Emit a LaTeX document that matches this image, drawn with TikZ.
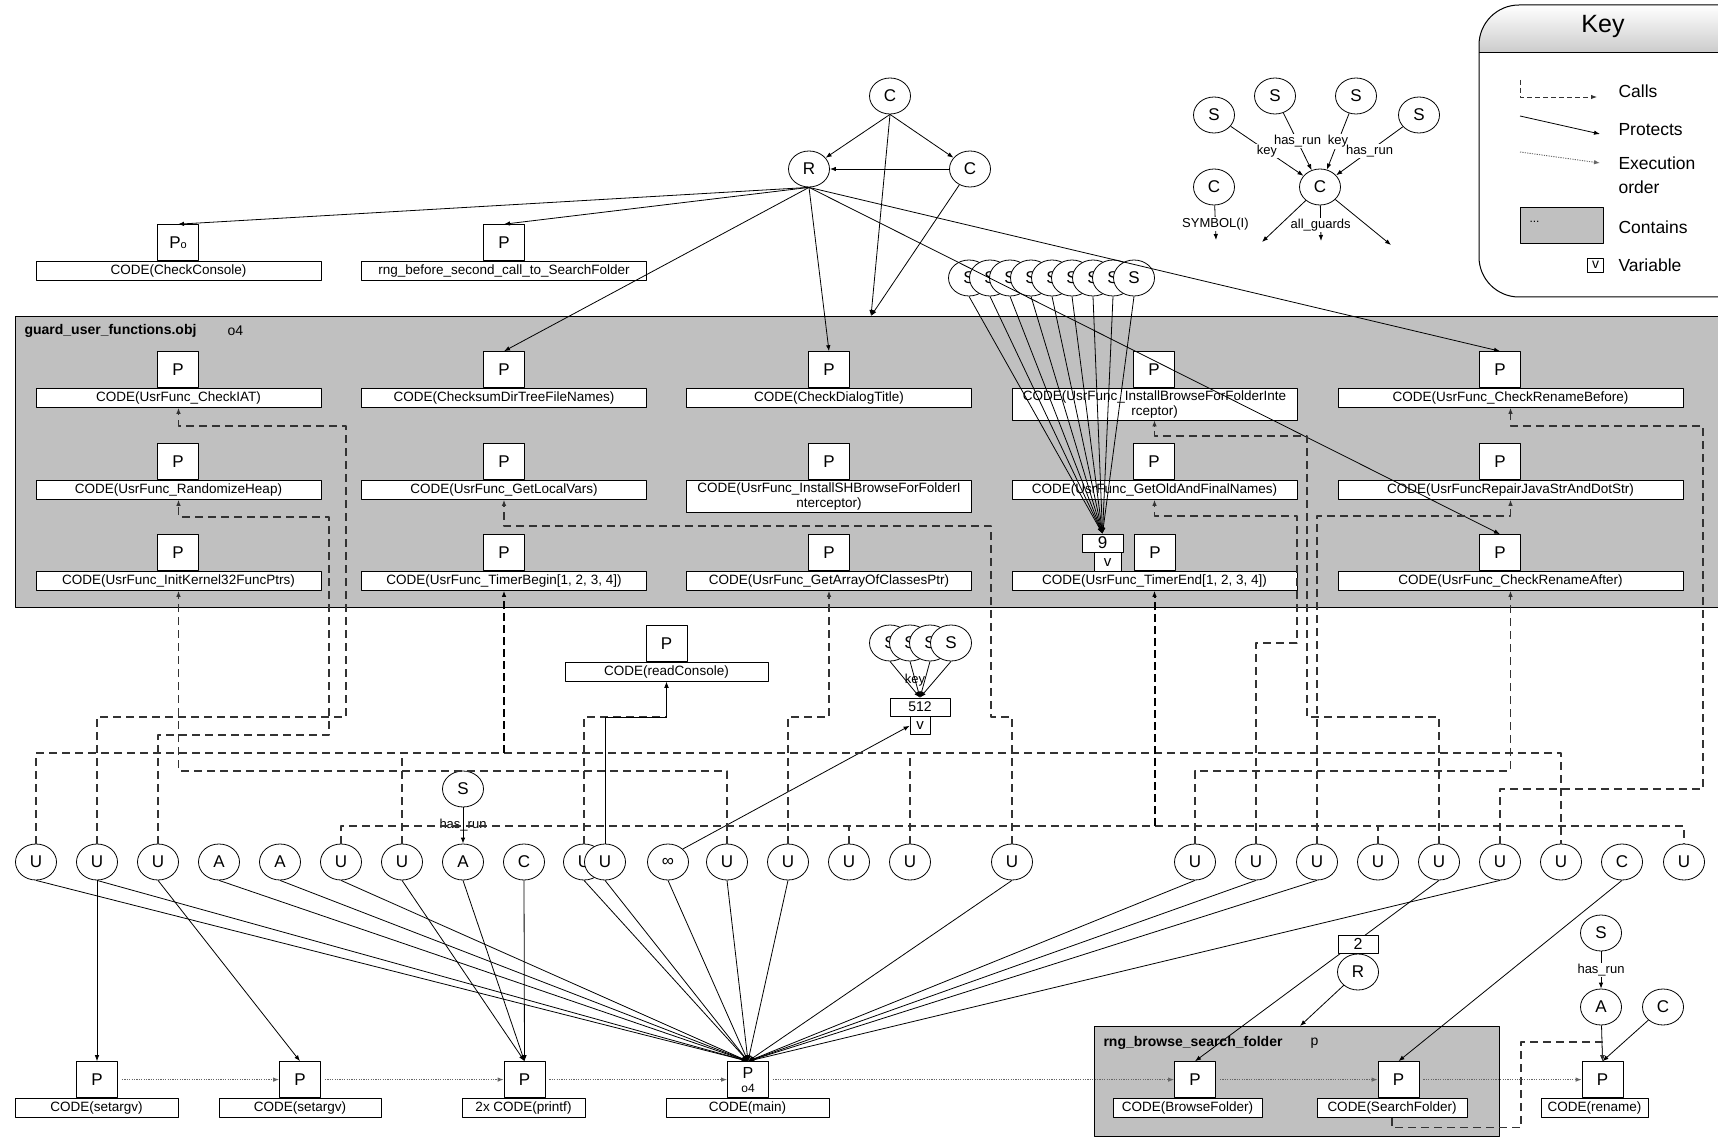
\documentclass[tikz,border=0pt]{standalone}
\usepackage{fontspec}
\setmainfont{Liberation Sans}
\usetikzlibrary{arrows.meta,shapes.geometric,positioning}
\definecolor{boxgray}{RGB}{192,192,192}

\begin{document}
\begin{tikzpicture}[x=1pt, y=-1pt, line join=round,
    arrowtip/.style={-{Latex[length=6pt,width=4.5pt]}},
    protects/.style={arrowtip, line width=0.8pt},
    calls/.style={arrowtip, line width=1.1pt, black!80, dash pattern=on 8pt off 5pt},
    bus/.style={line width=1.1pt, black!80, dash pattern=on 8pt off 5pt},
    riser/.style={arrowtip, line width=2pt, black, dash pattern=on 8pt off 4pt},
    execorder/.style={arrowtip, line width=0.9pt, black!60, dash pattern=on 1.2pt off 1.2pt, shorten <=4pt},
    guard/.style={ellipse, draw, fill=white, line width=0.8pt, minimum width=41pt, minimum height=36pt, inner sep=0pt, font=\fontsize{17}{17}\selectfont},
    pbox/.style={draw, fill=white, line width=0.8pt, minimum width=41pt, minimum height=36pt, inner sep=0pt, anchor=south, font=\fontsize{17}{17}\selectfont},
    codebox/.style={draw, fill=white, line width=0.8pt, minimum height=19pt, inner sep=2pt, anchor=north, align=center, font=\fontsize{13.5}{15}\selectfont},
    varbox/.style={draw, fill=white, line width=0.8pt, inner sep=0pt, minimum height=18pt, font=\fontsize{15}{15}\selectfont},
    lbl/.style={fill=white, inner sep=1pt, font=\fontsize{13}{13}\selectfont},
    container/.style={draw, fill=boxgray, line width=0.8pt},
    keytext/.style={anchor=west, align=left, font=\fontsize{17.5}{24}\selectfont}]

\useasboundingbox (0,0) rectangle (1718,1139);

% Contenitori grigi
\draw[container] (15,316) rectangle (1730,607);
\node[anchor=west, font=\fontsize{14}{14}\selectfont\bfseries] (guardname) at (21,331) {guard\_user\_functions.obj};
\node[anchor=west, font=\fontsize{14}{14}\selectfont] (guardobj) at (224,331) {o4};
\draw[container] (1094,1026) rectangle (1499,1136);
\node[anchor=west, font=\fontsize{14}{14}\selectfont\bfseries] (rngname) at (1100,1043) {rng\_browse\_search\_folder};
\node[anchor=west, font=\fontsize{14}{14}\selectfont] (rngobj) at (1307,1043) {p};

% Funzioni: riquadro CODE(...) con la P sopra
\foreach \fn/\cx/\px/\ty/\bw/\txt in {
    rngbef/504/504/261/285/{rng\_before\_second\_call\_to\_SearchFolder},
    iat/178.5/178/388/285/{CODE(UsrFunc\_CheckIAT)},
    chksum/504/504/388/285/{CODE(ChecksumDirTreeFileNames)},
    dialog/829/829/388/285/{CODE(CheckDialogTitle)},
    instb/1154.5/1154/388/285/{CODE(UsrFunc\_InstallBrowseForFolderInte\\rceptor)},
    renb/1510.5/1500/388/345/{CODE(UsrFunc\_CheckRenameBefore)},
    rheap/178.5/178/480/285/{CODE(UsrFunc\_RandomizeHeap)},
    getloc/504/504/480/285/{CODE(UsrFunc\_GetLocalVars)},
    instsh/829/829/480/285/{CODE(UsrFunc\_InstallSHBrowseForFolderI\\nterceptor)},
    getold/1154.5/1154/480/285/{CODE(UsrFunc\_GetOldAndFinalNames)},
    repair/1510.5/1500/480/345/{CODE(UsrFuncRepairJavaStrAndDotStr)},
    initk/178.5/178/571/285/{CODE(UsrFunc\_InitKernel32FuncPtrs)},
    timerb/504/504/571/285/{CODE(UsrFunc\_TimerBegin[1, 2, 3, 4])},
    getarr/829/829/571/285/{CODE(UsrFunc\_GetArrayOfClassesPtr)},
    timere/1154.5/1155/571/285/{CODE(UsrFunc\_TimerEnd[1, 2, 3, 4])},
    rena/1510.5/1500/571/345/{CODE(UsrFunc\_CheckRenameAfter)},
    readcon/666.5/666.5/662/203/{CODE(readConsole)},
    setA/96.5/97/1098/163/{CODE(setargv)},
    setB/300/300/1098/162/{CODE(setargv)},
    printf/523.5/524.5/1098/123/{2x CODE(printf)},
    browse/1187.5/1195/1098/149/{CODE(BrowseFolder)},
    search/1392/1398.5/1098/150/{CODE(SearchFolder)},
    rename/1594.5/1602.5/1098/107/{CODE(rename)}}{
  \node[codebox, minimum width=\bw pt] (\fn) at (\cx,\ty) {\txt};
  \node[pbox] (\fn-p) at (\px,\ty) {P};
}
\node[codebox, minimum width=285pt] (chkcon) at (178.5,261) {CODE(CheckConsole)};
\node[pbox] (chkcon-p) at (178,261) {P{\fontsize{11}{11}\selectfont o}};
\node[codebox, minimum width=163pt] (main) at (747.5,1098) {CODE(main)};
\node[pbox, align=center, font=\fontsize{16}{14}\selectfont] (main-p) at (748,1098) {P\\{\fontsize{12}{12}\selectfont o4}};

% Variabili
\node[varbox, minimum width=41pt, font=\fontsize{17}{17}\selectfont] (nine) at (1102.5,543) {9};
\node[varbox, minimum width=27pt, minimum height=19pt, below=0pt of nine, xshift=5pt] (nine-v) {v};
\node[varbox, minimum width=60pt, font=\fontsize{14}{14}\selectfont] (n512) at (920,707) {512};
\node[varbox, minimum width=20pt, below=0pt of n512] (n512-v) {v};

% Nodi in alto
\node[guard] (ctop) at (890,96) {C};
\node[guard] (r) at (809,169) {R};
\node[guard] (cright) at (970,169) {C};
\coordinate (guardtop) at (871,316);
\foreach \x [count=\i] in {969,990,1010,1031,1052,1072,1093,1113,1134}
  \node[guard] (s\i) at (\x,278) {S};

\node[guard] (sk1) at (1214,115) {S};
\node[guard] (sk2) at (1275,96) {S};
\node[guard] (sk3) at (1356,96) {S};
\node[guard] (sk4) at (1419,115) {S};
\node[guard] (csym) at (1214,187) {C};
\node[guard] (cg) at (1320,187) {C};
\coordinate (symend) at (1216,240);
\coordinate (g1) at (1262,242);
\coordinate (g2) at (1321,241);
\coordinate (g3) at (1391,245);

% Nodi in basso
\foreach \x [count=\i] in {890,910,930,951}
  \node[guard] (k\i) at (\x,643) {S};
\foreach \nm/\x/\t in {b1/36/U, b2/97/U, b3/158/U, b4/219/A, b5/280/A, b6/341/U,
    b7/402/U, b8/463/A, b9/524/C, b10/584/U, b11/605/U, b12/668/∞, b13/727/U,
    b14/788/U, b15/849/U, b16/910/U, b17/1012/U, b18/1195/U, b19/1256/U, b20/1317/U,
    b21/1378/U, b22/1439/U, b23/1500/U, b24/1561/U, b25/1622/C, b26/1684/U}
  \node[guard] (\nm) at (\x,862) {\t};
\node[guard] (shr) at (463,789) {S};
\node[guard] (sbot) at (1601,933) {S};
\node[guard] (abot) at (1601,1007) {A};
\node[guard] (cbot) at (1663,1007) {C};
\node[guard] (rbot) at (1358,972) {R};
\coordinate (rngtop) at (1300,1026);
\coordinate (bus1) at (0,753);
\coordinate (bus2) at (0,826);

% Protezioni in alto
\draw[protects] (ctop.south) -- (r);
\draw[protects] (ctop.south) -- (cright);
\draw[protects] (cright) -- (r);
\draw[protects] (ctop.south) -- (guardtop);
\draw[protects] (cright) -- (guardtop);
\foreach \t in {chkcon-p, rngbef-p, chksum-p, dialog-p, renb-p, rena-p}
  \draw[protects] (r.south) -- (\t.north);
\foreach \i in {1,...,9}
  \draw[protects] (s\i.south) -- (nine.north);

\draw[protects] (sk1) -- node[lbl, pos=0.5] {key} (cg);
\draw[protects] (sk2) -- node[lbl, pos=0.5] {has\_run} (cg);
\draw[protects] (sk3) -- node[lbl, pos=0.5] {key} (cg);
\draw[protects] (sk4) -- node[lbl, pos=0.5] {has\_run} (cg);
\draw[protects] (csym) -- node[lbl, pos=0.55] {SYMBOL(I)} (symend);
\draw[protects] (cg) -- (g1);
\draw[protects] (cg) -- node[lbl, pos=0.55] {all\_guards} (g2);
\draw[protects] (cg) -- (g3);

% Protezioni in basso
\foreach \i in {1,...,4}
  \draw[protects] (k\i.south) -- (n512.north);
\node[lbl, fill=none] (keylbl) at (915,680) {key};
\draw[protects] (b12.north east) -- (n512-v.west);
\draw[protects] (b2.south) -- (setA-p.north);
\draw[protects] (b3.south) -- (setB-p.north);
\foreach \b in {b7,b8,b9}
  \draw[protects] (\b.south) -- (printf-p.north);
\foreach \b in {b1,b2,b4,b5,b6,b10,b11,b12,b13,b14,b17,b18,b19,b20,b23}
  \draw[protects] (\b.south) -- (main-p.north);
\draw[protects] (b22.south) -- (browse-p.north);
\draw[protects] (b25.south) -- (search-p.north);
\draw[protects] (rbot) -- (rngtop);
\draw[protects] (shr) -- node[lbl, fill=none] {has\_run} (b8);
\draw[protects] (sbot) -- node[lbl] {has\_run} (abot);
\draw[protects] (abot) -- (rename-p.north);
\draw[protects] (cbot) -- (rename-p.north);
\node[varbox, minimum width=40pt, font=\fontsize{16}{16}\selectfont] (two) at (1358,944) {2};

% Chiamate (tratteggiate)
\draw[calls] (b2.north) |- (346,717) |- (178.5,426) -- (iat.south);
\draw[calls] (b3.north) |- (329,735) |- (178.5,517) -- (rheap.south);
\draw[calls] (b13.north) |- (178.5,771) -- (initk.south);
\draw[bus] (b1.north) |- (b24.north |- bus1) -- (b24.north);
\draw[bus] (b7.north) -- (b7.north |- bus1);
\draw[bus] (b16.north) -- (b16.north |- bus1);
\draw[riser] (timerb.south |- bus1) -- (timerb.south);
\draw[bus] (b6.north) |- (b26.north |- bus2) -- (b26.north);
\draw[bus] (b15.north) -- (b15.north |- bus2);
\draw[bus] (b21.north) -- (b21.north |- bus2);
\draw[riser] (timere.south |- bus2) -- (timere.south);
\draw[calls] (b10.north) |- (666.5,717) -- (readcon.south);
\draw[protects] (b11.north) |- (666.5,717) -- (readcon.south);
\draw[calls] (b14.north) |- (829,717) -- (getarr.south);
\draw[calls] (b17.north) |- (991,717) |- (504,526) -- (getloc.south);
\draw[calls] (b19.north) |- (1297,643) |- (1154.5,516) -- (getold.south);
\draw[calls] (b22.north) |- (1307,717) |- (1154.5,436) -- (instb.south);
\draw[calls] (b20.north) |- (1510.5,516) -- (repair.south);
\draw[calls] (b18.north) |- (1510.5,771) -- (rena.south);
\draw[calls] (b23.north) |- (1703,789) |- (1510.5,426) -- (renb.south);
\draw[calls] (search.south) -- ++(0,10) -| (1521,1042) -| (rename-p.north);

% Ordine di esecuzione
\foreach \a/\b in {setA/setB, setB/printf, printf/main, main/browse, browse/search, search/rename}
  \draw[execorder] (\a-p.east) -- (\b-p.west);

% Legenda
\shade[top color=white, bottom color=black!20] (1479,52) [rounded corners=40pt] -- (1479,5) -- (1760,5) [sharp corners] -- (1760,52) -- cycle;
\draw[line width=1pt, rounded corners=40pt] (1479,297) -- (1479,5) -- (1760,5) -- (1760,297) -- cycle;
\draw[line width=0.8pt] (1479,52) -- (1760,52);
\node[font=\fontsize{25}{25}\selectfont] (keytitle) at (1603,26) {Key};
\coordinate (kc1) at (1520,80);
\coordinate (kc2) at (1597,97);
\draw[calls, line width=0.9pt, dash pattern=on 5pt off 3pt] (kc1) |- (kc2);
\node[keytext] (kcalls) at (1615,91) {Calls};
\coordinate (kp1) at (1520,116);
\coordinate (kp2) at (1600,134);
\draw[protects] (kp1) -- (kp2);
\node[keytext] (kprot) at (1615,130) {Protects};
\coordinate (ke1) at (1520,152);
\coordinate (ke2) at (1600,163);
\draw[execorder, shorten <=0pt] (ke1) -- (ke2);
\node[keytext] (kexec) at (1615,175) {Execution\\order};
\node[draw, fill=boxgray, line width=0.8pt, minimum width=83pt, minimum height=36pt, anchor=north west] (kbox) at (1520,207) {};
\node[anchor=west, font=\fontsize{12}{12}\selectfont] (kdots) at (1526,222) {...};
\node[keytext] (kcont) at (1615,227) {Contains};
\node[varbox, minimum width=16pt, minimum height=14pt, font=\fontsize{14}{14}\selectfont] (kvar) at (1595.5,265) {v};
\node[keytext] (kvartext) at (1615,265) {Variable};

\end{tikzpicture}
\end{document}
